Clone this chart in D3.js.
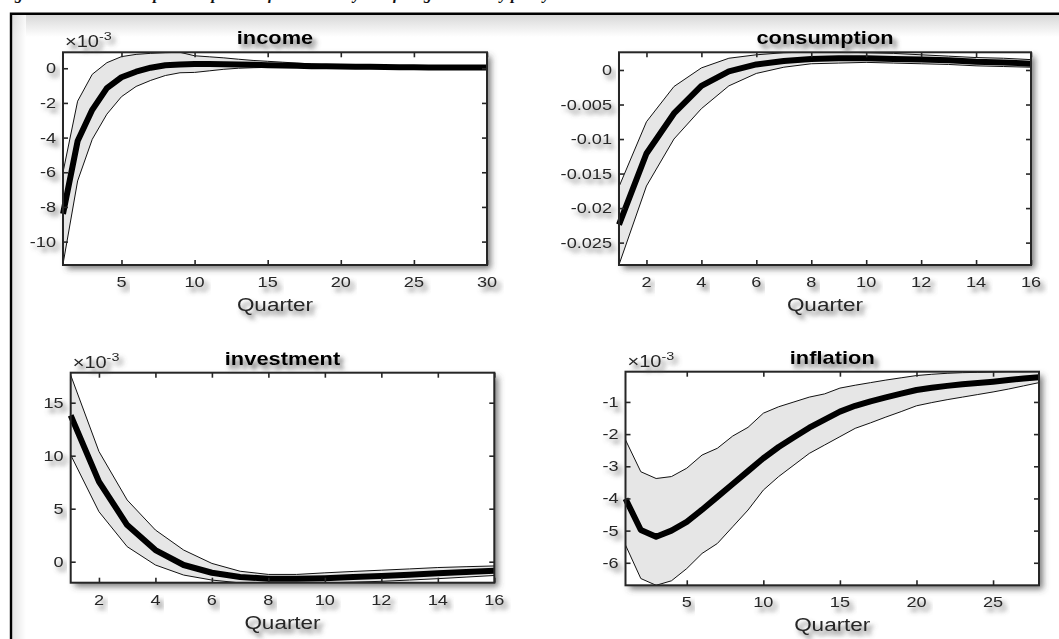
<!DOCTYPE html>
<html>
<head>
<meta charset="utf-8">
<script src="https://cdn.jsdelivr.net/npm/d3@7"></script>
<style>
  html, body { margin: 0; padding: 0; background: #fff; }
  svg { display: block; font-family: "Liberation Sans", Arial, Helvetica, sans-serif; }
</style>
</head>
<body>
<svg id="chart" width="1059" height="639"></svg>
<script>
// Impulse responses: posterior mean with 90% band, by quarter.
// income, investment and inflation are in units of 1e-3.

const incomeQuarter = d3.range(1, 31);
const incomeMean  = [-8.4, -4.2, -2.4, -1.15, -0.52, -0.2, 0.03, 0.17, 0.22, 0.24, 0.24, 0.23, 0.22, 0.2, 0.18, 0.16, 0.14, 0.12, 0.11, 0.1, 0.09, 0.08, 0.07, 0.06, 0.06, 0.05, 0.05, 0.04, 0.04, 0.04];
const incomeUpper = [-6.0, -1.9, -0.35, 0.32, 0.67, 0.8, 0.86, 0.9, 0.92, 0.72, 0.66, 0.6, 0.52, 0.45, 0.4, 0.35, 0.3, 0.25, 0.2, 0.16, 0.14, 0.13, 0.12, 0.11, 0.1, 0.1, 0.09, 0.09, 0.08, 0.08];
const incomeLower = [-11.3, -6.5, -4.1, -2.65, -1.64, -1.05, -0.7, -0.42, -0.26, -0.24, -0.15, -0.06, 0.0, 0.03, 0.05, 0.06, 0.06, 0.06, 0.06, 0.05, 0.04, 0.03, 0.02, 0.01, 0.0, 0.0, -0.01, -0.02, -0.03, -0.04];

const consQuarter = d3.range(1, 17);
const consMean  = [-0.0224, -0.0121, -0.0063, -0.0023, -0.0002, 0.0008, 0.0013, 0.0016, 0.0017, 0.0017, 0.0016, 0.0015, 0.0014, 0.0012, 0.0011, 0.0009];
const consUpper = [-0.0169, -0.0075, -0.0024, 0.0003, 0.0017, 0.0022, 0.0025, 0.0026, 0.0026, 0.0025, 0.0024, 0.0022, 0.0020, 0.0018, 0.0017, 0.0015];
const consLower = [-0.0282, -0.0168, -0.0100, -0.0056, -0.0023, -0.0005, 0.0004, 0.0009, 0.0010, 0.0011, 0.0010, 0.0009, 0.0008, 0.0006, 0.0005, 0.0004];

const invQuarter = d3.range(1, 17);
const invMean  = [13.8, 7.55, 3.46, 1.1, -0.31, -1.04, -1.45, -1.6, -1.6, -1.55, -1.45, -1.35, -1.22, -1.1, -0.97, -0.85];
const invUpper = [17.6, 10.4, 5.82, 2.99, 1.1, -0.16, -0.9, -1.2, -1.2, -1.05, -0.92, -0.8, -0.68, -0.55, -0.47, -0.4];
const invLower = [10.07, 4.72, 1.42, -0.31, -1.26, -1.73, -2.0, -2.05, -2.05, -2.0, -1.93, -1.85, -1.73, -1.6, -1.45, -1.3];

const inflQuarter = d3.range(1, 29);
const inflMean  = [-4.01, -4.98, -5.19, -5.0, -4.73, -4.35, -3.95, -3.55, -3.15, -2.75, -2.4, -2.1, -1.8, -1.55, -1.3, -1.12, -0.98, -0.86, -0.74, -0.63, -0.56, -0.5, -0.45, -0.41, -0.37, -0.32, -0.27, -0.23];
const inflUpper = [-2.18, -3.17, -3.38, -3.32, -3.06, -2.65, -2.44, -2.06, -1.79, -1.35, -1.15, -1.0, -0.85, -0.75, -0.57, -0.48, -0.4, -0.32, -0.25, -0.18, -0.14, -0.11, -0.09, -0.08, -0.07, -0.06, -0.06, -0.05];
const inflLower = [-5.45, -6.49, -6.7, -6.56, -6.18, -5.71, -5.4, -4.88, -4.36, -3.74, -3.32, -2.96, -2.6, -2.34, -2.08, -1.82, -1.65, -1.47, -1.3, -1.12, -1.02, -0.93, -0.85, -0.77, -0.69, -0.6, -0.5, -0.4];

const panelTitles = ["income", "consumption", "investment", "inflation"];
const xAxisLabel = "Quarter";
const exponentLabel = "\u00d710";
const exponentPower = "-3";
const captionText = "Figure 4: Estimated impulse responses of the economy to a foreign monetary policy shock";

const incomeXTicks = [5, 10, 15, 20, 25, 30];
const incomeYTicks = [0, -2, -4, -6, -8, -10];
const consXTicks = [2, 4, 6, 8, 10, 12, 14, 16];
const consYTicks = [0, -0.005, -0.01, -0.015, -0.02, -0.025];
const invXTicks = [2, 4, 6, 8, 10, 12, 14, 16];
const invYTicks = [0, 5, 10, 15];
const inflXTicks = [5, 10, 15, 20, 25];
const inflYTicks = [-1, -2, -3, -4, -5, -6];

const panels = [
  { title: panelTitles[0], q: incomeQuarter, mean: incomeMean, up: incomeUpper, lo: incomeLower,
    xDom: [1, 30], yDom: [-11.35, 0.92], xt: incomeXTicks, yt: incomeYTicks, exp: true,
    box: { x0: 63, x1: 487, y0: 52.3, y1: 265 } },
  { title: panelTitles[1], q: consQuarter, mean: consMean, up: consUpper, lo: consLower,
    xDom: [1, 16], yDom: [-0.02824, 0.00256], xt: consXTicks, yt: consYTicks, exp: false,
    box: { x0: 619, x1: 1031, y0: 52.3, y1: 265 } },
  { title: panelTitles[2], q: invQuarter, mean: invMean, up: invUpper, lo: invLower,
    xDom: [1, 16], yDom: [-1.98, 17.83], xt: invXTicks, yt: invYTicks, exp: true,
    box: { x0: 70.7, x1: 494.3, y0: 372.7, y1: 582.7 } },
  { title: panelTitles[3], q: inflQuarter, mean: inflMean, up: inflUpper, lo: inflLower,
    xDom: [1, 28], yDom: [-6.7, -0.06], xt: inflXTicks, yt: inflYTicks, exp: true,
    box: { x0: 625.5, x1: 1039, y0: 371.7, y1: 585.3 } }
];

const SX = 1.25;           // horizontal stretch applied to all text
const svg = d3.select("#chart");
const defs = svg.append("defs");

const txtShadow = defs.append("filter").attr("id", "tshadow")
  .attr("x", "-30%").attr("y", "-50%").attr("width", "160%").attr("height", "220%");
txtShadow.append("feDropShadow").attr("dx", 3).attr("dy", 4.5)
  .attr("stdDeviation", 2.2).attr("flood-color", "#555").attr("flood-opacity", 0.85);

const boxShadow = defs.append("filter").attr("id", "bshadow")
  .attr("x", "-5%").attr("y", "-5%").attr("width", "115%").attr("height", "120%");
boxShadow.append("feDropShadow").attr("dx", 4).attr("dy", 4)
  .attr("stdDeviation", 3).attr("flood-color", "#444").attr("flood-opacity", 0.7);

const topGrad = defs.append("linearGradient").attr("id", "topShade")
  .attr("x1", 0).attr("y1", 0).attr("x2", 0).attr("y2", 1);
topGrad.append("stop").attr("offset", "0%").attr("stop-color", "#d8d8d8");
topGrad.append("stop").attr("offset", "100%").attr("stop-color", "#ffffff");
const leftGrad = defs.append("linearGradient").attr("id", "leftShade")
  .attr("x1", 0).attr("y1", 0).attr("x2", 1).attr("y2", 0);
leftGrad.append("stop").attr("offset", "0%").attr("stop-color", "#dcdcdc");
leftGrad.append("stop").attr("offset", "100%").attr("stop-color", "#ffffff");

// caption above the frame; the page top trims all but its descenders
svg.append("text")
  .attr("x", 0).attr("y", -1.5)
  .attr("font-family", "'Liberation Serif', 'Times New Roman', serif")
  .attr("font-weight", "bold").attr("font-style", "italic")
  .attr("font-size", 16).attr("fill", "#111")
  .text(captionText);

// outer frame with soft inner shading
svg.append("rect").attr("x", 12).attr("y", 15).attr("width", 1047).attr("height", 22)
  .attr("fill", "url(#topShade)");
svg.append("rect").attr("x", 12).attr("y", 15).attr("width", 14).attr("height", 624)
  .attr("fill", "url(#leftShade)").attr("opacity", 0.8);
svg.append("path")
  .attr("d", "M11,639 V13.8 H1059")
  .attr("fill", "none").attr("stroke", "#000").attr("stroke-width", 2.4);

function stretchedText(g, x, y, str, opts) {
  const t = g.append("text")
    .attr("transform", `translate(${x},${y}) scale(${SX},1)`)
    .attr("text-anchor", opts.anchor || "middle")
    .attr("font-size", opts.size)
    .attr("font-weight", opts.weight || "normal")
    .attr("fill", opts.fill || "#262626")
    .attr("filter", "url(#tshadow)");
  t.text(str);
  return t;
}

panels.forEach((p, i) => {
  const b = p.box;
  const x = d3.scaleLinear().domain(p.xDom).range([b.x0, b.x1]);
  const y = d3.scaleLinear().domain(p.yDom).range([b.y1, b.y0]);
  const g = svg.append("g");

  // white axes background with drop shadow
  g.append("rect")
    .attr("x", b.x0).attr("y", b.y0).attr("width", b.x1 - b.x0).attr("height", b.y1 - b.y0)
    .attr("fill", "#fff").attr("filter", "url(#bshadow)");

  const clipId = "clip" + i;
  defs.append("clipPath").attr("id", clipId).append("rect")
    .attr("x", b.x0 - 8).attr("y", b.y0).attr("width", b.x1 - b.x0 + 8).attr("height", b.y1 - b.y0);

  const rows = p.q.map((q, k) => ({ q, m: p.mean[k], u: p.up[k], l: p.lo[k] }));
  const plot = g.append("g").attr("clip-path", `url(#${clipId})`);

  plot.append("path").datum(rows)
    .attr("d", d3.area().x(d => x(d.q)).y0(d => y(d.l)).y1(d => y(d.u)))
    .attr("fill", "#e6e6e6").attr("stroke", "none");
  plot.append("path").datum(rows)
    .attr("d", d3.line().x(d => x(d.q)).y(d => y(d.u)))
    .attr("fill", "none").attr("stroke", "#111").attr("stroke-width", 1);
  plot.append("path").datum(rows)
    .attr("d", d3.line().x(d => x(d.q)).y(d => y(d.l)))
    .attr("fill", "none").attr("stroke", "#111").attr("stroke-width", 1);
  plot.append("path").datum(rows)
    .attr("d", d3.line().x(d => x(d.q)).y(d => y(d.m)))
    .attr("fill", "none").attr("stroke", "#000").attr("stroke-width", 6)
    .attr("stroke-linejoin", "round");

  // inward ticks on all four sides
  const tickLen = 5;
  const axB = g.append("g").attr("transform", `translate(0,${b.y1})`)
    .call(d3.axisBottom(x).tickValues(p.xt).tickSizeInner(-tickLen).tickSizeOuter(0).tickFormat(""));
  const axT = g.append("g").attr("transform", `translate(0,${b.y0})`)
    .call(d3.axisTop(x).tickValues(p.xt).tickSizeInner(-tickLen).tickSizeOuter(0).tickFormat(""));
  const axL = g.append("g").attr("transform", `translate(${b.x0},0)`)
    .call(d3.axisLeft(y).tickValues(p.yt).tickSizeInner(-tickLen).tickSizeOuter(0).tickFormat(""));
  const axR = g.append("g").attr("transform", `translate(${b.x1},0)`)
    .call(d3.axisRight(y).tickValues(p.yt).tickSizeInner(-tickLen).tickSizeOuter(0).tickFormat(""));
  [axB, axT, axL, axR].forEach(a => {
    a.select(".domain").remove();
    a.selectAll(".tick line").attr("stroke", "#262626").attr("stroke-width", 1.6);
  });

  // box outline
  g.append("rect")
    .attr("x", b.x0).attr("y", b.y0).attr("width", b.x1 - b.x0).attr("height", b.y1 - b.y0)
    .attr("fill", "none").attr("stroke", "#262626").attr("stroke-width", 2);

  // tick labels
  p.xt.forEach(v => stretchedText(g, x(v), b.y1 + 22, String(v), { size: 14.5 }));
  p.yt.forEach(v => stretchedText(g, b.x0 - 7, y(v) + 5, String(v), { size: 14.5, anchor: "end" }));

  // titles and axis label
  const cx = (b.x0 + b.x1) / 2;
  stretchedText(g, cx, b.y0 - 8, p.title, { size: 17.5, weight: "bold", fill: "#000" });
  stretchedText(g, cx, b.y1 + 46, xAxisLabel, { size: 18 });

  if (p.exp) {
    const e = g.append("text")
      .attr("transform", `translate(${b.x0 + 2},${b.y0 - 5}) scale(${SX},1)`)
      .attr("font-size", 16).attr("fill", "#262626").attr("filter", "url(#tshadow)");
    e.append("tspan").text(exponentLabel);
    e.append("tspan").attr("font-size", 11.5).attr("dy", -7).text(exponentPower);
  }
});
</script>
</body>
</html>
